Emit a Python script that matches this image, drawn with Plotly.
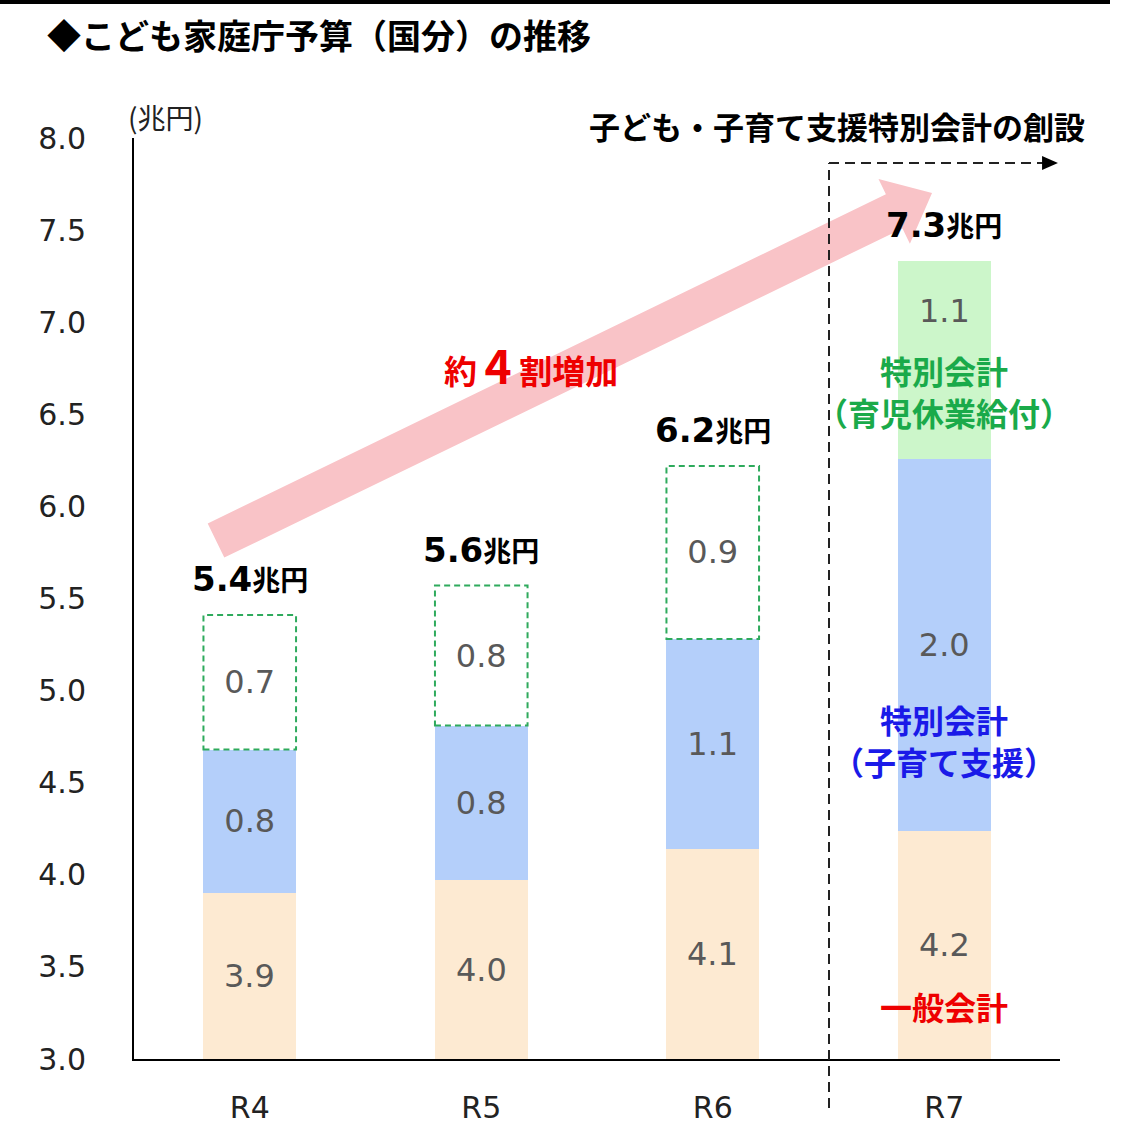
import numpy as np
import plotly.graph_objects as go

# データ（兆円）
nendo = ['R4', 'R5', 'R6', 'R7']
ippan = [3.90, 3.97, 4.14, 4.24]        # 一般会計
kosodate = [0.78, 0.84, 1.14, 2.02]     # 特別会計（子育て支援）
ikuji = [0.73, 0.76, 0.94, 1.07]        # 育児休業給付
y_ticks = [3.0, 3.5, 4.0, 4.5, 5.0, 5.5, 6.0, 6.5, 7.0, 7.5, 8.0]

W, H = 1133, 1132
L, R, T, B = 134, 73, 138, 73
pw, ph = W - L - R, H - T - B

def px(x):
    return (x - L) / pw

def py(y):
    return (H - B - y) / ph

num_font = 'DejaVu Sans, Noto Sans CJK JP'
jp_font = 'Noto Sans CJK JP'
val_color = '#595959'
val_font = dict(family=num_font, size=32, color=val_color)

fig = go.Figure()

fig.add_trace(go.Bar(x=nendo, y=ippan, width=0.4,
                     marker=dict(color='#FDEAD2', line=dict(width=0))))
fig.add_trace(go.Bar(
    x=nendo, y=kosodate, width=0.4, marker=dict(color='#B4CFFA', line=dict(width=0)),
    text=[f'{v:.1f}' for v in kosodate], textposition='inside', insidetextanchor='middle',
    textangle=0, textfont=val_font))
fig.add_trace(go.Bar(
    x=nendo, y=ikuji, width=0.4,
    marker=dict(color=['white', 'white', 'white', '#CCF6CA'], line=dict(width=0)),
    text=[f'{v:.1f}' for v in ikuji[:3]] + [''], textposition='inside',
    insidetextanchor='middle', textangle=0, textfont=val_font))

totals = [a + b + c for a, b, c in zip(ippan, kosodate, ikuji)]

# 一般会計の数値（軸の下端 3.0 から見た中央）
for i, v in enumerate(ippan):
    fig.add_annotation(x=nendo[i], y=(y_ticks[0] + v) / 2, text=f'{v:.1f}',
                       showarrow=False, font=val_font)

# R4〜R6 の育児休業給付は点線枠
for i in range(3):
    base = ippan[i] + kosodate[i]
    fig.add_shape(type='rect', xref='x', yref='y', x0=i - 0.2, x1=i + 0.2,
                  y0=base, y1=base + ikuji[i],
                  line=dict(color='#2EAA5C', width=2, dash='6px,4px'))

# R7 の 1.1 は少し上に
base7 = ippan[3] + kosodate[3]
fig.add_annotation(x=nendo[3], y=base7 + ikuji[3] * 0.75, text=f'{ikuji[3]:.1f}',
                   showarrow=False, font=val_font)

# 合計ラベル
for i, tot in enumerate(totals):
    fig.add_annotation(
        x=nendo[i], y=tot, yanchor='bottom', yshift=14, showarrow=False,
        text=f"<b>{tot:.1f}<span style='font-size:28px'>兆円</span></b>",
        font=dict(family=num_font, size=34, color='black'))

# ピンクの矢印
tail = np.array([216.0, 540.5])
tip = np.array([932.0, 193.0])
u = (tip - tail) / np.linalg.norm(tip - tail)
n = np.array([-u[1], u[0]])
hb = tip - 42 * u
pts = [tail - 19 * n, hb - 19 * n, hb - 36 * n, tip, hb + 36 * n, hb + 19 * n, tail + 19 * n]
path = 'M ' + ' L '.join(f'{px(p[0]):.4f},{py(p[1]):.4f}' for p in pts) + ' Z'
fig.add_shape(type='path', xref='paper', yref='paper', path=path,
              fillcolor='#F9C3C7', line=dict(width=0), layer='below')

# 特別会計創設の点線枠
fig.add_shape(type='line', xref='paper', yref='paper', x0=px(829), x1=px(829),
              y0=py(1108), y1=py(163), line=dict(color='#222', width=2, dash='10px,6px'))
fig.add_shape(type='line', xref='paper', yref='paper', x0=px(829), x1=px(1044),
              y0=py(163), y1=py(163), line=dict(color='#222', width=2, dash='10px,6px'))
fig.add_shape(type='path', xref='paper', yref='paper',
              path=f'M {px(1042):.4f},{py(156):.4f} L {px(1058):.4f},{py(163):.4f} '
                   f'L {px(1042):.4f},{py(170):.4f} Z',
              fillcolor='black', line=dict(width=0))

# 上端の線
fig.add_shape(type='line', xref='paper', yref='paper', x0=px(0), x1=px(1110),
              y0=py(2), y1=py(2), line=dict(color='black', width=4))

# テキスト
def note(x, y, text, size, color, xanchor='center', xref='paper'):
    fig.add_annotation(xref=xref, yref='paper', x=x, y=py(y), xanchor=xanchor,
                       yanchor='middle', text=text, showarrow=False,
                       font=dict(family=jp_font, size=size, color=color))

note(px(45), 35, '<b>◆こども家庭庁予算（国分）の推移</b>', 34, 'black', xanchor='left')
note(px(165), 117, '(兆円)', 28, '#222')
note(px(1087), 125, '<b>子ども・子育て支援特別会計の創設</b>', 31, 'black', xanchor='right')
note(px(531), 364, "<b>約 <span style='font-size:46px'>4</span> 割増加</b>", 33, '#EE0000')
note(nendo[3], 391, '<b>特別会計<br>（育児休業給付）</b>', 32, '#1AAA4A', xref='x')
note(nendo[3], 740, '<b>特別会計<br>（子育て支援）</b>', 32, '#1A1AE8', xref='x')
note(nendo[3], 1006, '<b>一般会計</b>', 32, '#EE0000', xref='x')

fig.update_layout(
    barmode='stack', width=W, height=H, showlegend=False,
    margin=dict(l=L, r=R, t=T, b=B, pad=0),
    plot_bgcolor='white', paper_bgcolor='white',
    xaxis=dict(range=[-0.5, 3.5], showline=True, linecolor='black', linewidth=2,
               ticks='', showgrid=False, ticklabelstandoff=21, automargin=False,
               tickfont=dict(family=num_font, size=30, color='#222')),
    yaxis=dict(range=[3, 8], tickvals=y_ticks, tickformat='.1f', showline=True,
               linecolor='black', linewidth=2, ticks='', showgrid=False, zeroline=False,
               ticklabelstandoff=40, automargin=False,
               tickfont=dict(family=num_font, size=30, color='#222')),
)

fig.write_html('out.html', config={'displayModeBar': False},
               post_script="document.body.style.margin='0';")
